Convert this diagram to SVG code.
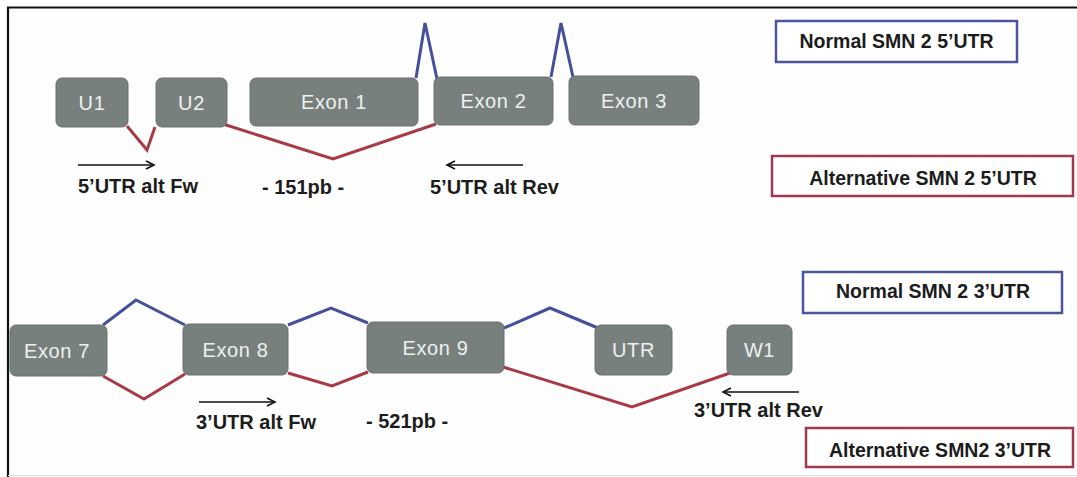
<svg xmlns="http://www.w3.org/2000/svg" width="1077" height="477" viewBox="0 0 1077 477">
  <defs>
    <style>
      .exon { fill: #78807e; stroke: #6a716f; stroke-width: 1; }
      .exon-label { font-family: "Liberation Sans", Arial, sans-serif; font-size: 20px; fill: #eef1ee; text-anchor: middle; letter-spacing: 0.6px; }
      .label { font-family: "Liberation Sans", Arial, sans-serif; font-size: 20px; font-weight: bold; fill: #1c1c1c; }
      .legend-text { font-family: "Liberation Sans", Arial, sans-serif; font-size: 19.5px; font-weight: bold; fill: #1c1c1c; text-anchor: middle; }
      .normal { fill: none; stroke: #44509a; stroke-width: 3; stroke-linejoin: miter; }
      .alt { fill: none; stroke: #a83a45; stroke-width: 3; stroke-linejoin: miter; }
      .legend-normal { fill: #ffffff; stroke: #4b55a0; stroke-width: 2.5; }
      .legend-alt { fill: #ffffff; stroke: #a03a4a; stroke-width: 2.5; }
      .primer { stroke: #111; stroke-width: 1.6; fill: none; }
    </style>
    <marker id="head" markerWidth="12" markerHeight="10" refX="9" refY="5" orient="auto" markerUnits="userSpaceOnUse">
      <path d="M1,1 L9,5 L1,9" fill="none" stroke="#111" stroke-width="1.6"/>
    </marker>
  </defs>

  <rect width="1077" height="477" fill="#fefefe"/>

  <!-- frame -->
  <g id="frame">
    <line x1="7" y1="7.5" x2="1077" y2="7.5" stroke="#111" stroke-width="2.2"/>
    <line x1="8" y1="7" x2="8" y2="477" stroke="#111" stroke-width="2.2"/>
    <line x1="8" y1="475.5" x2="1077" y2="475.5" stroke="#dddddd" stroke-width="1"/>
  </g>

  <!-- splice connectors -->
  <g id="connectors">
    <!-- 5' region, normal splicing -->
    <polyline class="normal" points="416,78 425,23 437,79"/>
    <polyline class="normal" points="551,77 561,23 573,77"/>
    <!-- 5' region, alternative splicing -->
    <polyline class="alt" points="127,126 147,150 155,127"/>
    <polyline class="alt" points="223,124 333,159 436,124"/>
    <!-- 3' region, normal splicing -->
    <polyline class="normal" points="103,325 136,300 185,325"/>
    <polyline class="normal" points="288,325 331,308 368,323"/>
    <polyline class="normal" points="504,328 550,308 598,328"/>
    <!-- 3' region, alternative splicing -->
    <polyline class="alt" points="103,376 144,399 185,374"/>
    <polyline class="alt" points="288,373 332,386 368,372"/>
    <polyline class="alt" points="503,367 632,407 730,373"/>
    <!-- primers -->
    <line class="primer" x1="78" y1="165" x2="154" y2="165" marker-end="url(#head)"/>
    <line class="primer" x1="523" y1="165" x2="447" y2="165" marker-end="url(#head)"/>
    <line class="primer" x1="199" y1="402" x2="275" y2="402" marker-end="url(#head)"/>
    <line class="primer" x1="799" y1="392" x2="723" y2="392" marker-end="url(#head)"/>
  </g>

  <!-- 5' UTR exons -->
  <g id="u1"><rect class="exon" x="56" y="78" width="72" height="49" rx="6"/><text class="exon-label" x="92" y="110">U1</text></g>
  <g id="u2"><rect class="exon" x="156" y="78" width="71" height="49" rx="6"/><text class="exon-label" x="191.5" y="110">U2</text></g>
  <g id="exon1"><rect class="exon" x="250" y="78" width="168" height="48" rx="6"/><text class="exon-label" x="334" y="109">Exon 1</text></g>
  <g id="exon2"><rect class="exon" x="434" y="77" width="119" height="48" rx="6"/><text class="exon-label" x="493.5" y="108">Exon 2</text></g>
  <g id="exon3"><rect class="exon" x="569" y="76" width="130" height="49" rx="6"/><text class="exon-label" x="634" y="108">Exon 3</text></g>

  <!-- 3' UTR exons -->
  <g id="exon7"><rect class="exon" x="10" y="325" width="97" height="51" rx="6"/><text class="exon-label" x="57" y="358">Exon 7</text></g>
  <g id="exon8"><rect class="exon" x="183" y="324" width="105" height="51" rx="6"/><text class="exon-label" x="235.5" y="357">Exon 8</text></g>
  <g id="exon9"><rect class="exon" x="367" y="322" width="137" height="51" rx="6"/><text class="exon-label" x="435.5" y="355">Exon 9</text></g>
  <g id="utr"><rect class="exon" x="595" y="325" width="77" height="50" rx="6"/><text class="exon-label" x="633.5" y="357">UTR</text></g>
  <g id="w1"><rect class="exon" x="727" y="325" width="65" height="50" rx="6"/><text class="exon-label" x="759.5" y="357">W1</text></g>

  <!-- primer and amplicon labels -->
  <g id="labels">
    <text class="label" x="78" y="193">5’UTR alt Fw</text>
    <text class="label" x="262" y="194">- 151pb -</text>
    <text class="label" x="430" y="194">5’UTR alt Rev</text>
    <text class="label" x="196" y="429">3’UTR alt Fw</text>
    <text class="label" x="366" y="428">- 521pb -</text>
    <text class="label" x="694" y="417">3’UTR alt Rev</text>
  </g>

  <!-- legend -->
  <g id="legend-normal-5">
    <rect class="legend-normal" x="776" y="21" width="241" height="41"/>
    <text class="legend-text" x="896.5" y="48">Normal SMN 2 5’UTR</text>
  </g>
  <g id="legend-alt-5">
    <rect class="legend-alt" x="772" y="156" width="301" height="40"/>
    <text class="legend-text" x="923" y="185">Alternative SMN 2 5’UTR</text>
  </g>
  <g id="legend-normal-3">
    <rect class="legend-normal" x="803" y="272" width="259" height="41"/>
    <text class="legend-text" x="933" y="298">Normal SMN 2 3’UTR</text>
  </g>
  <g id="legend-alt-3">
    <rect class="legend-alt" x="806" y="428" width="267" height="39"/>
    <text class="legend-text" x="940" y="457">Alternative SMN2 3’UTR</text>
  </g>
</svg>
